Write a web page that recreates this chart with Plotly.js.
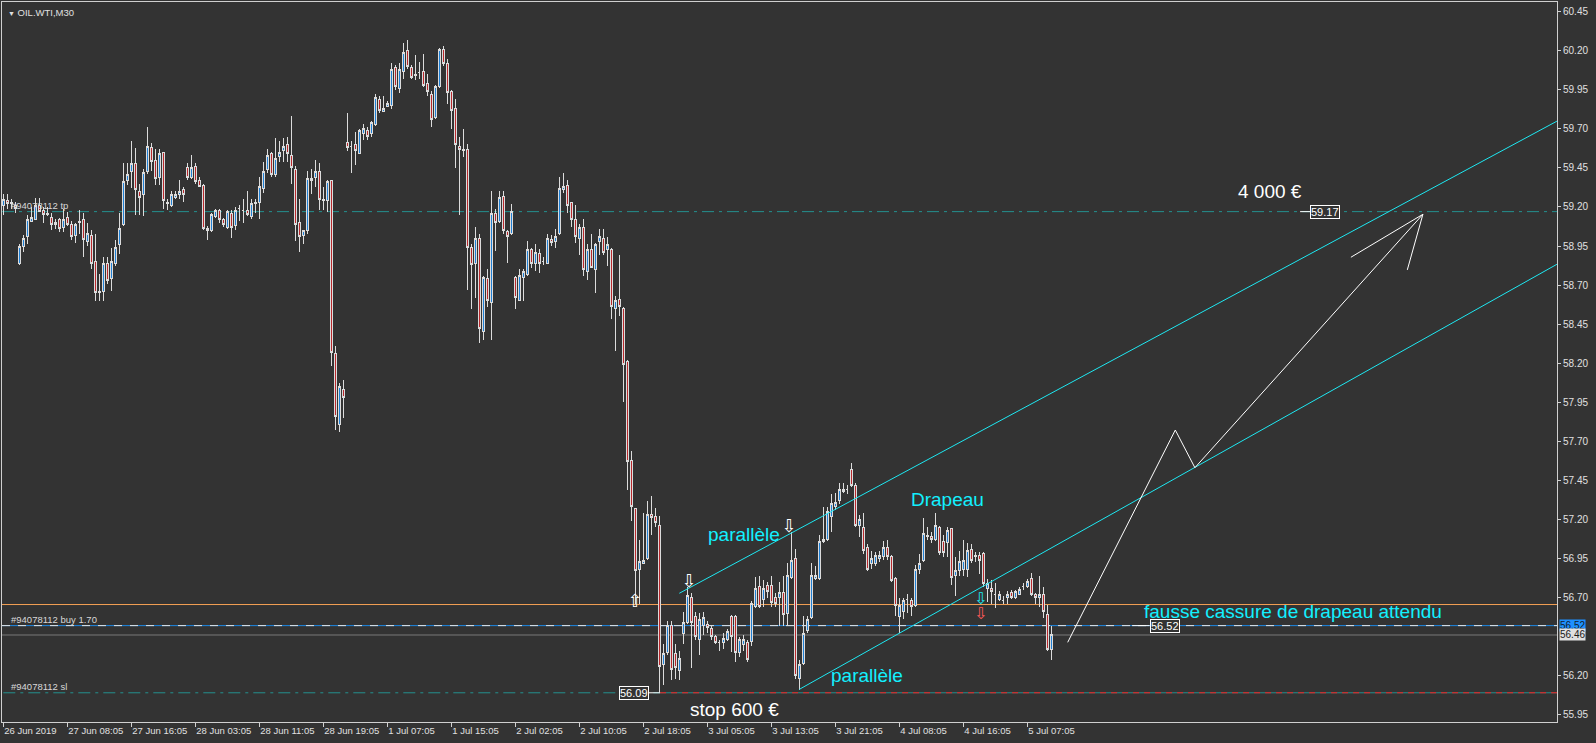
<!DOCTYPE html>
<html><head><meta charset="utf-8">
<script src="https://cdn.plot.ly/plotly-3.0.1.min.js"></script>
<style>html,body{margin:0;padding:0;background:#333333;overflow:hidden}#chart{width:1596px;height:743px}
#chart .boxlayer path{shape-rendering:crispEdges}</style>
</head><body><div id="chart"></div>
<script>
// ---- OHLC data (OIL.WTI, M30), one value per bar ----
const barOpen = [
59.21,59.24,59.22,59.21,58.84,58.95,59.01,59.11,59.12,59.21,
59.18,59.15,59.13,59.09,59.12,59.07,59.13,59.09,59.02,59.10,
59.12,58.98,59.02,58.85,58.65,58.66,58.84,58.74,58.84,58.96,
59.09,59.37,59.43,59.48,59.30,59.28,59.43,59.58,59.50,59.39,
59.55,59.23,59.21,59.26,59.28,59.31,59.45,59.39,59.46,59.37,
59.34,59.06,59.05,59.14,59.18,59.12,59.07,59.16,59.08,59.19,
59.18,59.18,59.14,59.22,59.23,59.32,59.44,59.54,59.41,59.52,
59.56,59.60,59.53,59.44,59.10,59.02,59.05,59.37,59.39,59.43,
59.25,59.24,59.37,58.26,57.81,58.03,59.61,59.59,59.60,59.54,
59.67,59.69,59.67,59.73,59.89,59.81,59.84,59.85,60.09,59.96,
60.07,60.20,60.09,60.04,60.06,60.07,59.99,59.92,59.77,59.97,
60.21,60.12,59.94,59.83,59.59,59.56,59.57,58.94,58.84,59.00,
58.40,58.74,58.59,59.16,59.11,59.27,59.04,59.03,58.75,58.60,
58.75,58.77,58.93,58.84,58.90,58.85,58.84,58.99,58.98,59.03,
59.31,59.34,59.23,59.12,59.00,59.07,58.79,58.93,58.80,58.98,
59.00,58.93,58.93,58.55,58.61,58.55,58.21,57.58,57.27,56.88,
56.92,56.95,57.23,57.22,57.16,56.27,56.35,56.52,56.34,56.23,
56.47,56.54,56.70,56.58,56.43,56.52,56.53,56.50,56.45,56.41,
56.41,56.43,56.58,56.58,56.35,56.40,56.41,56.42,56.64,56.77,
56.69,56.78,56.78,56.70,56.70,56.73,56.60,56.83,56.95,56.18,
56.28,56.49,56.57,56.82,56.82,57.06,57.07,57.22,57.28,57.32,
57.38,57.39,57.52,57.42,57.16,57.15,57.02,56.92,56.92,56.95,
56.96,57.02,56.96,56.82,56.58,56.61,56.69,56.68,56.65,56.88,
56.94,57.10,57.09,57.07,57.15,57.06,57.05,57.14,56.84,56.87,
56.88,56.88,57.01,56.96,56.97,56.98,56.76,56.76,56.72,56.69,
56.68,56.70,56.73,56.70,56.72,56.77,56.77,56.82,56.72,56.70,
56.72,56.59,56.37];
const barHigh = [
59.28,59.28,59.25,59.23,58.96,59.02,59.15,59.20,59.26,59.26,
59.20,59.20,59.16,59.12,59.13,59.19,59.17,59.11,59.10,59.18,
59.16,59.10,59.05,59.03,58.77,58.88,58.88,58.94,58.99,59.16,
59.48,59.48,59.62,59.58,59.35,59.44,59.71,59.61,59.57,59.57,
59.55,59.25,59.30,59.30,59.37,59.33,59.48,59.53,59.48,59.39,
59.35,59.08,59.16,59.19,59.19,59.13,59.18,59.18,59.20,59.21,
59.25,59.30,59.25,59.25,59.39,59.49,59.57,59.55,59.64,59.62,
59.64,59.65,59.78,59.46,59.25,59.05,59.43,59.44,59.50,59.48,
59.33,59.37,59.37,58.31,58.07,58.09,59.80,59.62,59.68,59.70,
59.73,59.71,59.75,59.92,59.91,59.91,59.88,60.12,60.11,60.12,
60.25,60.27,60.11,60.17,60.13,60.18,60.05,59.94,59.98,60.22,
60.23,60.15,59.95,59.89,59.65,59.70,59.60,58.96,59.07,59.03,
58.76,58.80,59.30,59.19,59.30,59.30,59.05,59.22,58.76,58.80,
58.80,58.98,58.94,58.96,58.93,58.88,59.03,59.02,59.06,59.39,
59.42,59.37,59.23,59.21,59.09,59.12,58.96,59.03,58.97,59.06,
59.06,59.01,58.94,58.63,58.89,58.56,58.22,57.64,57.27,57.07,
57.24,57.32,57.35,57.27,57.22,56.40,56.55,56.55,56.40,56.36,
56.61,56.77,56.73,56.61,56.60,56.61,56.55,56.52,56.46,56.43,
56.47,56.50,56.59,56.59,56.45,56.46,56.43,56.68,56.83,56.84,
56.81,56.80,56.84,56.73,56.80,56.84,56.92,57.12,57.01,56.30,
56.58,56.58,56.92,56.90,57.10,57.28,57.28,57.36,57.37,57.43,
57.43,57.42,57.56,57.43,57.23,57.24,57.04,57.00,56.99,57.00,
57.06,57.07,56.97,56.83,56.70,56.70,56.72,56.70,56.91,56.98,
57.21,57.15,57.12,57.24,57.16,57.10,57.15,57.14,56.96,57.00,
57.07,57.05,57.04,56.99,56.99,56.99,56.82,56.81,56.79,56.74,
56.71,56.74,56.75,56.75,56.77,56.79,56.82,56.86,56.73,56.84,
56.77,56.65,56.52];
const barLow = [
59.15,59.19,59.19,59.16,58.83,58.91,58.96,59.11,59.12,59.17,
59.10,59.14,59.05,59.06,59.04,59.04,59.08,58.99,58.97,59.03,
58.88,58.95,58.80,58.60,58.60,58.60,58.71,58.66,58.82,58.90,
59.08,59.34,59.32,59.15,59.15,59.14,59.41,59.43,59.34,59.34,
59.19,59.18,59.20,59.25,59.25,59.23,59.37,59.38,59.35,59.33,
59.05,58.99,59.04,59.13,59.10,59.07,59.06,59.00,59.05,59.11,
59.10,59.14,59.12,59.16,59.12,59.29,59.42,59.39,59.39,59.49,
59.49,59.49,59.35,58.98,58.91,58.96,59.03,59.28,59.33,59.18,
59.18,59.17,58.18,57.77,57.76,57.85,59.56,59.42,59.47,59.54,
59.63,59.63,59.65,59.72,59.80,59.81,59.84,59.83,59.95,59.93,
60.02,60.08,60.02,60.01,60.02,59.97,59.91,59.71,59.76,59.96,
60.10,59.86,59.70,59.45,59.15,59.52,58.67,58.55,58.62,58.33,
58.35,58.56,58.35,58.92,59.10,59.03,58.84,59.02,58.55,58.60,
58.60,58.76,58.81,58.79,58.78,58.83,58.84,58.95,58.94,59.02,
59.29,59.16,59.07,58.97,58.89,58.76,58.73,58.81,58.65,58.89,
58.89,58.82,58.48,58.28,58.50,57.95,57.39,57.19,56.66,56.66,
56.92,56.94,57.10,57.15,56.09,56.14,56.33,56.17,56.18,56.17,
56.40,56.53,56.25,56.43,56.33,56.46,56.47,56.43,56.40,56.36,
56.37,56.42,56.35,56.29,56.32,56.36,56.29,56.39,56.63,56.63,
56.64,56.70,56.64,56.64,56.52,56.52,56.52,56.82,56.18,56.11,
56.27,56.47,56.56,56.81,56.81,57.05,57.06,57.12,57.26,57.30,
57.37,57.36,57.41,57.15,57.09,56.98,56.87,56.88,56.90,56.93,
56.94,56.94,56.80,56.58,56.47,56.56,56.60,56.58,56.64,56.85,
56.93,57.07,57.05,57.06,56.97,56.96,56.96,56.78,56.71,56.84,
56.84,56.83,56.92,56.93,56.85,56.77,56.67,56.66,56.63,56.68,
56.66,56.66,56.69,56.69,56.72,56.75,56.76,56.71,56.66,56.64,
56.57,56.36,56.30];
const barClose = [
59.25,59.22,59.23,59.19,58.95,59.00,59.12,59.13,59.21,59.17,
59.15,59.16,59.09,59.10,59.06,59.12,59.09,59.01,59.09,59.11,
58.99,59.03,58.84,58.65,58.66,58.84,58.73,58.85,58.94,59.06,
59.36,59.41,59.48,59.31,59.26,59.42,59.59,59.49,59.38,59.54,
59.24,59.22,59.28,59.28,59.30,59.28,59.39,59.45,59.36,59.33,
59.06,59.05,59.15,59.18,59.12,59.09,59.17,59.07,59.18,59.19,
59.18,59.15,59.22,59.23,59.33,59.43,59.53,59.41,59.51,59.55,
59.59,59.54,59.45,59.09,59.01,59.05,59.38,59.38,59.43,59.25,
59.24,59.36,58.27,57.86,58.05,57.98,59.58,59.59,59.56,59.69,
59.70,59.65,59.74,59.90,59.82,59.83,59.86,60.08,59.97,60.08,
60.19,60.10,60.03,60.05,60.06,59.98,59.94,59.76,59.97,60.21,
60.12,59.93,59.82,59.60,59.57,59.57,58.94,58.83,59.00,58.42,
58.75,58.60,59.16,59.10,59.26,59.05,59.01,59.17,58.62,58.76,
58.79,58.93,58.84,58.91,58.84,58.85,59.00,58.97,59.01,59.32,
59.33,59.21,59.12,59.01,59.07,58.80,58.93,58.81,58.96,59.01,
58.91,58.96,58.56,58.60,58.56,58.19,57.57,57.28,56.87,56.93,
56.94,57.23,57.21,57.18,56.26,56.34,56.52,56.24,56.25,56.31,
56.54,56.71,56.54,56.45,56.56,56.57,56.51,56.45,56.41,56.41,
56.44,56.48,56.45,56.35,56.43,56.43,56.30,56.66,56.76,56.64,
56.76,56.74,56.67,56.66,56.73,56.59,56.84,56.94,56.20,56.27,
56.47,56.56,56.84,56.84,57.06,57.07,57.25,57.30,57.31,57.39,
57.39,57.39,57.42,57.16,57.20,57.00,56.88,56.95,56.97,56.97,
57.02,56.96,56.81,56.65,56.65,56.68,56.69,56.64,56.88,56.92,
57.11,57.09,57.07,57.16,56.99,56.99,57.13,56.83,56.87,56.93,
56.94,57.00,56.94,56.97,56.94,56.79,56.79,56.74,56.72,56.72,
56.68,56.72,56.70,56.74,56.75,56.77,56.80,56.72,56.70,56.72,
56.61,56.37,56.46];

// ---- axis ticks ----
const timeTickBars = [0,16,32,48,64,80,96,112,128,144,160,176,192,208,224,240,256];
const timeTickLabels = ['26 Jun 2019','27 Jun 08:05','27 Jun 16:05','28 Jun 03:05','28 Jun 11:05','28 Jun 19:05',
  '1 Jul 07:05','1 Jul 15:05','2 Jul 02:05','2 Jul 10:05','2 Jul 18:05','3 Jul 05:05','3 Jul 13:05',
  '3 Jul 21:05','4 Jul 08:05','4 Jul 16:05','5 Jul 07:05'];
const priceTicks = [60.45,60.20,59.95,59.70,59.45,59.20,58.95,58.70,58.45,58.20,57.95,57.70,57.45,57.20,56.95,56.70,56.20,55.95];

// ---- order / price levels ----
const tpLevel = 59.17, buyLevel = 56.52, bidLevel = 56.46, slLevel = 56.09, alertLevel = 56.655;

// ---- hand-drawn objects (bar index, price) ----
const upperChannelX = [169.0, 388.4], upperChannelY = [56.727, 59.749];
const lowerChannelX = [199.0, 388.4], lowerChannelY = [56.112, 58.833];
const scenarioX = [266.1, 293.0, 297.9, 354.9], scenarioY = [56.413, 57.772, 57.531, 59.153];
const arrowHeadX = [336.9, 354.9, 351.0], arrowHeadY = [58.878, 59.153, 58.797];
const markX = [158.0, 171.5, 196.5, 244.35, 244.35];
const markY = [56.668, 56.794, 57.151, 56.685, 56.585];
const markSym = ['⇧','⇩','⇩','⇩','⇩'];
const markColor = ['#ffffff','#ffffff','#ffffff','#1ee8f2','#ff5a5a'];
const markSize = [18, 18, 18, 16, 16];

const barIndex = barOpen.map((_, i) => i);
const CYAN = '#1ee8f2', TEXTCYAN = '#12f0ff', TEAL = '#24908f';

const traces = [
  {type:'candlestick', x:barIndex, open:barOpen, high:barHigh, low:barLow, close:barClose,
   increasing:{line:{color:'#dcdcdc', width:1}, fillcolor:'#1f7fd4'},
   decreasing:{line:{color:'#dcdcdc', width:1}, fillcolor:'#b8282c'},
   whiskerwidth:0, hoverinfo:'skip', showlegend:false},
  {type:'scatter', mode:'lines', x:upperChannelX, y:upperChannelY, line:{color:CYAN, width:1}, hoverinfo:'skip'},
  {type:'scatter', mode:'lines', x:lowerChannelX, y:lowerChannelY, line:{color:CYAN, width:1}, hoverinfo:'skip'},
  {type:'scatter', mode:'lines', x:scenarioX, y:scenarioY, line:{color:'#ffffff', width:1}, hoverinfo:'skip'},
  {type:'scatter', mode:'lines', x:arrowHeadX, y:arrowHeadY, line:{color:'#ffffff', width:1}, hoverinfo:'skip'},
  {type:'scatter', mode:'text', x:markX, y:markY, text:markSym, textposition:'middle center',
   textfont:{family:'DejaVu Sans', size:markSize, color:markColor}, hoverinfo:'skip'}
];

function hline(y, color, dash, x0, x1, xref) {
  return {type:'line', xref:xref||'paper', yref:'y', x0:(x0===undefined?0:x0), x1:(x1===undefined?1:x1), y0:y, y1:y,
          line:{color:color, width:1, dash:dash||'solid'}, layer:'below'};
}
const shapes = [
  hline(tpLevel, TEAL, '12px,5px,3px,5px'),
  hline(alertLevel, '#f4a055', 'solid'),
  hline(buyLevel, '#1e88e5', 'solid'),
  hline(buyLevel, '#e6e6e6', '8px,8px'),
  hline(bidLevel, '#7a7a7a', 'solid'),
  hline(slLevel, TEAL, '12px,5px,3px,5px', 0, 164.2, 'x'),
  hline(slLevel, TEAL, 'solid', 164.2, 388.425, 'x'),
  hline(slLevel, '#ff1a1a', '6px,5px', 164.2, 388.425, 'x'),
  hline(slLevel, '#ffffff', 'solid', 161.4, 164.2, 'x'),
  hline(tpLevel, '#ffffff', 'solid', 324.2, 326.7, 'x'),
  hline(buyLevel, '#ffffff', 'solid', 282.2, 286.6, 'x')
];

const F = 'Liberation Sans, Arial, sans-serif';
function txt(x, y, text, size, color, extra) {
  return Object.assign({x:x, y:y, xref:'x', yref:'y', text:text, showarrow:false,
    font:{family:F, size:size, color:color}, xanchor:'center', yanchor:'middle'}, extra||{});
}
const annotations = [
  {xref:'paper', yref:'paper', x:0, y:1, xanchor:'left', yanchor:'top', xshift:4, yshift:-3, showarrow:false,
   text:'<span style="font-size:7px">▼</span> OIL.WTI,M30', font:{family:F, size:9.5, color:'#e0e0e0'}},
  {xref:'paper', yref:'y', x:0, y:tpLevel, xanchor:'left', yanchor:'middle', xshift:7, yshift:6, showarrow:false,
   text:'#94078112 tp', font:{family:F, size:9.5, color:'#d8d8d8'}},
  {xref:'paper', yref:'y', x:0, y:buyLevel, xanchor:'left', yanchor:'middle', xshift:7, yshift:6, showarrow:false,
   text:'#94078112 buy 1.70', font:{family:F, size:9.5, color:'#d8d8d8'}},
  {xref:'paper', yref:'y', x:0, y:slLevel, xanchor:'left', yanchor:'middle', xshift:7, yshift:6, showarrow:false,
   text:'#94078112 sl', font:{family:F, size:9.5, color:'#d8d8d8'}},
  txt(157.7, slLevel, slLevel.toFixed(2), 11, '#ffffff', {bgcolor:'#333333', bordercolor:'#ffffff', borderwidth:1, borderpad:0}),
  txt(330.3, tpLevel, tpLevel.toFixed(2), 11, '#ffffff', {bgcolor:'#333333', bordercolor:'#ffffff', borderwidth:1, borderpad:0}),
  txt(290.3, buyLevel, buyLevel.toFixed(2), 11, '#ffffff', {bgcolor:'#333333', bordercolor:'#ffffff', borderwidth:1, borderpad:0}),
  {xref:'paper', yref:'y', x:1, y:buyLevel, xanchor:'left', yanchor:'middle', xshift:2, showarrow:false,
   text:buyLevel.toFixed(2), bgcolor:'#1e90ff', borderpad:0, font:{family:F, size:10, color:'#15202b'}},
  {xref:'paper', yref:'y', x:1, y:bidLevel, xanchor:'left', yanchor:'middle', xshift:2, showarrow:false,
   text:bidLevel.toFixed(2), bgcolor:'#e0e0e0', borderpad:0, font:{family:F, size:10, color:'#1a1a1a'}},
  txt(316.7, 59.30, '4 000 €', 19, '#ffffff'),
  txt(185.2, 57.106, 'parallèle', 19, TEXTCYAN),
  txt(216.0, 56.201, 'parallèle', 19, TEXTCYAN),
  txt(236.1, 57.330, 'Drapeau', 19, TEXTCYAN),
  txt(182.9, 55.980, 'stop 600 €', 19, '#ffffff'),
  txt(322.4, 56.609, 'fausse cassure de drapeau attendu', 19, TEXTCYAN)
];

const layout = {
  width:1596, height:743,
  margin:{l:2, r:39, t:2, b:21, pad:0},
  paper_bgcolor:'#333333', plot_bgcolor:'#333333',
  showlegend:false, hovermode:false,
  font:{family:F, size:9.5, color:'#e0e0e0'},
  xaxis:{type:'linear', range:[-0.325, 388.425], tickmode:'array', tickvals:timeTickBars, ticktext:timeTickLabels,
    ticks:'outside', ticklen:4, tickwidth:1, tickcolor:'#d0d0d0', ticklabelposition:'outside right', tickangle:0,
    tickfont:{family:F, size:9.5, color:'#e0e0e0'}, showline:true, mirror:true, linecolor:'#d0d0d0', linewidth:1,
    showgrid:false, zeroline:false, rangeslider:{visible:false}, fixedrange:true},
  yaxis:{side:'right', range:[55.903, 60.512], tickmode:'array', tickvals:priceTicks, ticktext:priceTicks.map(v => v.toFixed(2)),
    ticks:'outside', ticklen:3, tickwidth:1, tickcolor:'#d0d0d0',
    tickfont:{family:F, size:10, color:'#e0e0e0'}, showline:true, mirror:true, linecolor:'#d0d0d0', linewidth:1,
    showgrid:false, zeroline:false, fixedrange:true},
  shapes:shapes,
  annotations:annotations
};

Plotly.newPlot('chart', traces, layout, {displayModeBar:false, staticPlot:true});
</script></body></html>
